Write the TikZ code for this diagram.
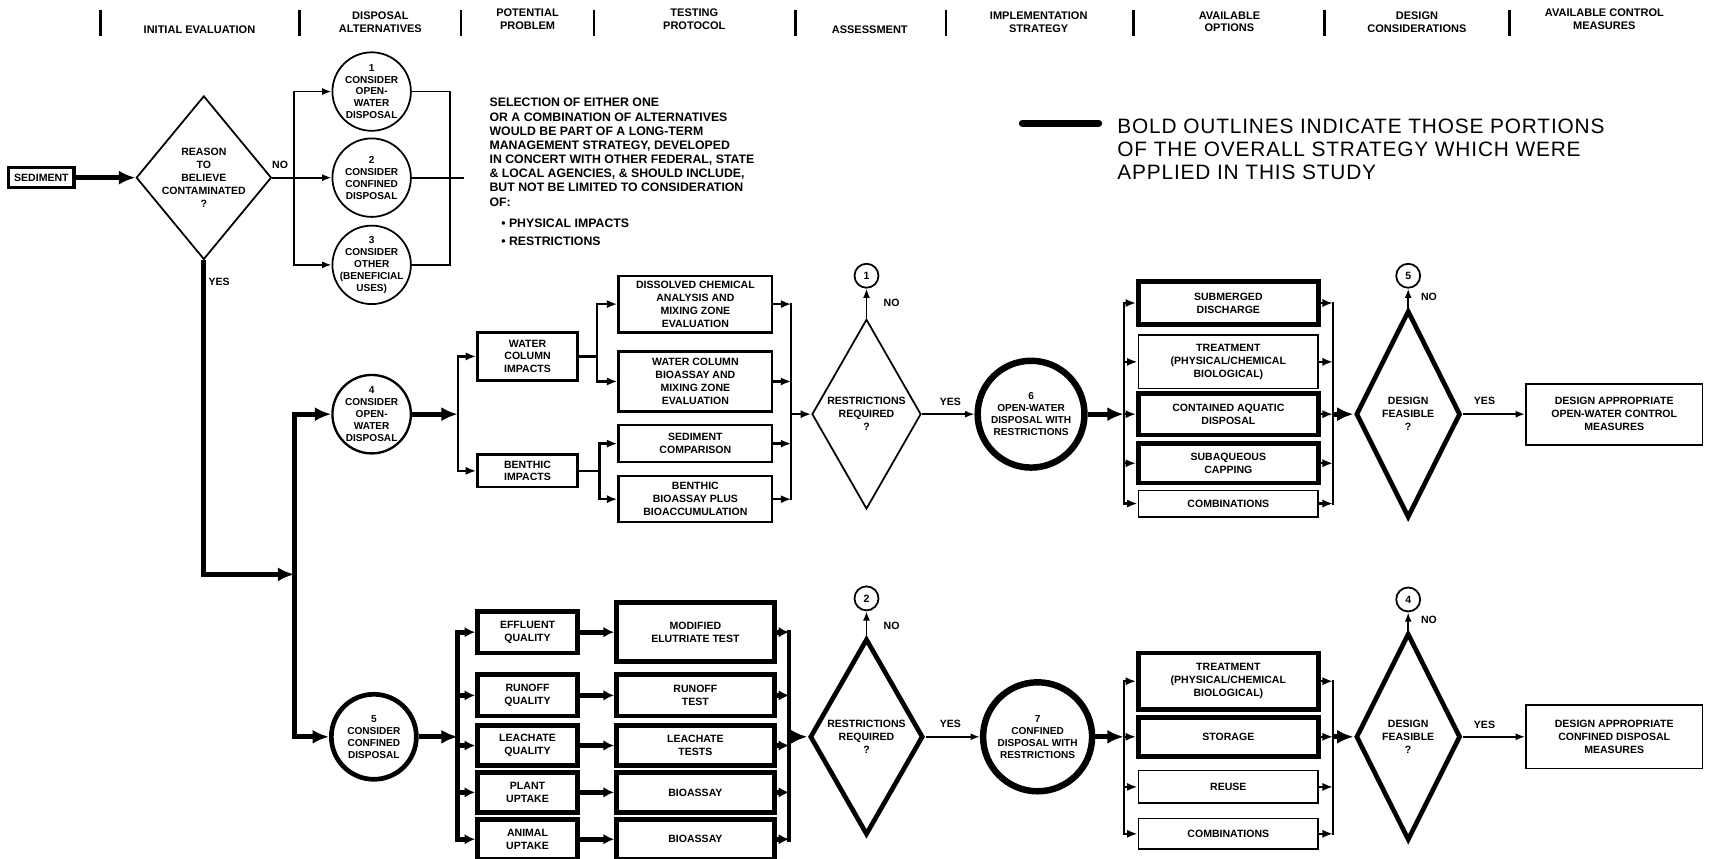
\documentclass[tikz,border=0pt]{standalone}
\usepackage{fontspec}
\setmainfont{Liberation Sans}
\newfontfamily\legendfam[LetterSpace=4]{Liberation Sans}
\usetikzlibrary{arrows.meta, shapes.geometric}

\newcommand{\upx}{0.327mm}
\newcommand{\boxfont}{\fontsize{9}{11}\selectfont\bfseries}
\newcommand{\ringfont}{\fontsize{8.6}{10.2}\selectfont\bfseries}
\newcommand{\hdfont}{\fontsize{9.4}{11}\selectfont\bfseries}
\newcommand{\notefont}{\fontsize{10.5}{12.1}\selectfont\bfseries}
\newcommand{\legendfont}{\fontsize{17.8}{19.5}\legendfam}

\tikzset{
  thinln/.style={line width=1.5pt},
  medln/.style={line width=2pt},
  boldln/.style={line width=4pt},
  bus/.style={line cap=rect},
  sz/.style 2 args={minimum width=#1*\upx, minimum height=#2*\upx},
  box/.style={draw, rectangle, inner sep=0pt, align=center, font=\boxfont, medln},
  thinbox/.style={box, thinln},
  boldbox/.style={box, boldln},
  ring/.style={circle, draw, inner sep=0pt, minimum size=#1*\upx},
  ctext/.style={align=center, font=\ringfont, inner sep=0pt},
  dtext/.style={align=center, font=\boxfont, inner sep=0pt},
  dia/.style 2 args={diamond, draw, inner sep=0pt, minimum width=#1*\upx, minimum height=#2*\upx},
  conn/.style={circle, draw, thinln, inner sep=0pt, minimum size=22*\upx, font=\boxfont},
  hd/.style={align=center, font=\hdfont, inner sep=0pt},
  yn/.style={font=\boxfont, inner sep=0pt},
  arr/.style={thinln, -{Latex[length=8pt,width=6pt]}},
  marr/.style={medln, -{Latex[length=9pt,width=7pt]}},
  sarr/.style={boldln, -{Latex[length=9pt,width=9pt]}},
  barr/.style={boldln, -{Latex[length=14pt,width=12pt]}},
}

\begin{document}
\begin{tikzpicture}[x=\upx, y=-\upx]
  \useasboundingbox (0,0) rectangle (1568,788);

  % column headings
  \foreach \bx in {92,275,423,545,730,868,1040,1215,1385}
    \draw[line width=2.2pt] (\bx,9) -- (\bx,33);
  \node[hd] (h1) at (183,27) {INITIAL EVALUATION};
  \node[hd] (h2) at (349,20) {DISPOSAL\\ALTERNATIVES};
  \node[hd] (h3) at (484,18) {POTENTIAL\\PROBLEM};
  \node[hd] (h4) at (637,18) {TESTING\\PROTOCOL};
  \node[hd] (h5) at (798,27) {ASSESSMENT};
  \node[hd] (h6) at (953,20) {IMPLEMENTATION\\STRATEGY};
  \node[hd] (h7) at (1128,20) {AVAILABLE\\OPTIONS};
  \node[hd] (h8) at (1300,20) {DESIGN\\CONSIDERATIONS};
  \node[hd] (h9) at (1472,18) {AVAILABLE CONTROL\\MEASURES};

  % legend
  \coordinate (lgA) at (938,113);
  \coordinate (lgB) at (1008,113);
  \draw[line width=6pt, line cap=round] (lgA) -- (lgB);
  \node[anchor=north west, align=left, font=\legendfont, inner sep=0pt] (legend) at (1025,109)
    {BOLD OUTLINES INDICATE THOSE PORTIONS\\OF THE OVERALL STRATEGY WHICH WERE\\APPLIED IN THIS STUDY};

  % initial evaluation
  \node[boldbox, line width=2.8pt, sz={60}{18}] (sed) at (38,163) {SEDIMENT};
  \node[dia={124}{150}, thinln, label={[dtext]center:REASON\\TO\\BELIEVE\\CONTAMINATED\\?}] (reason) at (187,163) {};
  \draw[barr] (sed.east) -- (reason.west);
  \node[yn] (no0) at (257,151) {NO};
  \node[yn] (yes0) at (201,259) {YES};

  % disposal alternatives
  \node[ring=72, thinln, label={[ctext]center:1\\CONSIDER\\OPEN-\\WATER\\DISPOSAL}] (alt1) at (341,84) {};
  \node[ring=72, thinln, label={[ctext]center:2\\CONSIDER\\CONFINED\\DISPOSAL}] (alt2) at (341,163) {};
  \node[ring=72, thinln, label={[ctext]center:3\\CONSIDER\\OTHER\\(BENEFICIAL\\USES)}] (alt3) at (341,243) {};
  \coordinate (nobus) at (270,0);
  \coordinate (altbus) at (413,0);
  \coordinate (altend) at (426,163);
  \draw[arr] (reason.east) -- (alt2.west);
  \draw[thinln, bus] (alt1.west -| nobus) -- (alt3.west -| nobus);
  \draw[arr] (alt1.west -| nobus) -- (alt1.west);
  \draw[arr] (alt3.west -| nobus) -- (alt3.west);
  \draw[thinln] (alt1.east) -- (alt1.east -| altbus) -- (alt3.east -| altbus) -- (alt3.east);
  \draw[thinln] (alt2.east) -- (altend);
  \node[anchor=north west, align=left, font=\notefont, inner sep=0pt] (note) at (449,90)
    {SELECTION OF EITHER ONE\\
     OR A COMBINATION OF ALTERNATIVES\\
     WOULD BE PART OF A LONG-TERM\\
     MANAGEMENT STRATEGY, DEVELOPED\\
     IN CONCERT WITH OTHER FEDERAL, STATE\\
     \& LOCAL AGENCIES, \& SHOULD INCLUDE,\\
     BUT NOT BE LIMITED TO CONSIDERATION\\
     OF:\\[6pt]
     \hspace*{10pt}\textbullet\ PHYSICAL IMPACTS\\[3pt]
     \hspace*{10pt}\textbullet\ RESTRICTIONS};

  % yes branch
  \node[ring=72, medln, label={[ctext]center:4\\CONSIDER\\OPEN-\\WATER\\DISPOSAL}] (c4) at (341,380) {};
  \node[ring=78, boldln, label={[ctext]center:5\\CONSIDER\\CONFINED\\DISPOSAL}] (c5) at (343,676) {};
  \coordinate (yjoin) at (270,527);
  \draw[barr] (reason.south) |- (yjoin);
  \draw[boldln, bus] (c4.west -| yjoin) -- (c5.west -| yjoin);
  \draw[barr] (c4.west -| yjoin) -- (c4.west);
  \draw[barr] (c5.west -| yjoin) -- (c5.west);

  % open-water: potential problem and testing protocol
  \coordinate (owbus) at (420,0);
  \coordinate (wsub) at (548,0);
  \coordinate (bsub) at (550,0);
  \coordinate (owtest) at (726,0);
  \node[box, sz={92}{44}] (wci) at (484,327) {WATER\\COLUMN\\IMPACTS};
  \node[box, sz={92}{30}] (bim) at (484,432) {BENTHIC\\IMPACTS};
  \node[box, sz={141}{52}] (dca) at (638,279) {DISSOLVED CHEMICAL\\ANALYSIS AND\\MIXING ZONE\\EVALUATION};
  \node[box, sz={141}{55}] (wcb) at (638,350) {WATER COLUMN\\BIOASSAY AND\\MIXING ZONE\\EVALUATION};
  \node[box, sz={141}{34}] (sco) at (638,407) {SEDIMENT\\COMPARISON};
  \node[box, sz={141}{42}] (bbb) at (638,458) {BENTHIC\\BIOASSAY PLUS\\BIOACCUMULATION};
  \draw[barr] (c4.east) -- (c4.east -| owbus);
  \draw[medln, bus] (wci.west -| owbus) -- (bim.west -| owbus);
  \draw[marr] (wci.west -| owbus) -- (wci.west);
  \draw[marr] (bim.west -| owbus) -- (bim.west);
  \draw[medln] (wci.east) -- (wci.east -| wsub);
  \draw[medln, bus] (dca.west -| wsub) -- (wcb.west -| wsub);
  \draw[marr] (dca.west -| wsub) -- (dca.west);
  \draw[marr] (wcb.west -| wsub) -- (wcb.west);
  \draw[medln] (bim.east) -- (bim.east -| bsub);
  \draw[medln, bus] (sco.west -| bsub) -- (bbb.west -| bsub);
  \draw[marr] (sco.west -| bsub) -- (sco.west);
  \draw[marr] (bbb.west -| bsub) -- (bbb.west);
  \draw[medln, bus] (dca.east -| owtest) -- (bbb.east -| owtest);
  \foreach \b in {dca,wcb,sco,bbb}
    \draw[marr] (\b.east) -- (\b.east -| owtest);

  % open-water: assessment and implementation
  \node[dia={100}{174}, thinln, label={[dtext]center:RESTRICTIONS\\REQUIRED\\?}] (ra) at (795,380) {};
  \node[conn] (k1) at (795,253) {1};
  \node[yn] (no1) at (818,278) {NO};
  \node[yn] (yes1) at (872,369) {YES};
  \node[ring=98, line width=5.5pt, label={[ctext]center:6\\OPEN-WATER\\DISPOSAL WITH\\RESTRICTIONS}] (c6) at (946,380) {};
  \draw[marr] (ra.west -| owtest) -- (ra.west);
  \draw[arr] (ra.north) -- (k1.south);
  \draw[arr] (ra.east) -- (c6.west);

  % open-water: options and design
  \coordinate (owopt) at (1031,0);
  \coordinate (owdes) at (1223,0);
  \node[boldbox, sz={165}{40}] (sub) at (1127,278) {SUBMERGED\\DISCHARGE};
  \node[thinbox, sz={165}{49}] (trt1) at (1127,332) {TREATMENT\\(PHYSICAL/CHEMICAL\\BIOLOGICAL)};
  \node[boldbox, sz={165}{38}] (cad) at (1127,380) {CONTAINED AQUATIC\\DISPOSAL};
  \node[boldbox, sz={165}{36}] (cap) at (1127,425) {SUBAQUEOUS\\CAPPING};
  \node[thinbox, sz={165}{24}] (cmb1) at (1127,462) {COMBINATIONS};
  \draw[barr] (c6.east) -- (c6.east -| owopt);
  \draw[medln, bus] (sub.west -| owopt) -- (cmb1.west -| owopt);
  \draw[medln, bus] (sub.east -| owdes) -- (cmb1.east -| owdes);
  \foreach \b in {sub,trt1,cad,cap,cmb1} {
    \draw[marr] (\b.west -| owopt) -- (\b.west);
    \draw[marr] (\b.east) -- (\b.east -| owdes);
  }
  \node[dia={96}{190}, boldln, label={[dtext]center:DESIGN\\FEASIBLE\\?}] (da) at (1292,380) {};
  \node[conn] (k5) at (1292,253) {5};
  \node[yn] (no5) at (1311,272) {NO};
  \node[yn] (yes5) at (1362,368) {YES};
  \node[thinbox, sz={162}{56}] (fin1) at (1481,380) {DESIGN APPROPRIATE\\OPEN-WATER CONTROL\\MEASURES};
  \draw[barr] (da.west -| owdes) -- (da.west);
  \draw[arr] (da.north) -- (k5.south);
  \draw[arr] (da.east) -- (fin1.west);

  % confined: potential problem and testing protocol
  \coordinate (cdbus) at (420,0);
  \coordinate (cdtest) at (724,0);
  \node[boldbox, sz={92}{38}] (eff) at (484,580) {EFFLUENT\\QUALITY};
  \node[boldbox, sz={92}{38}] (run) at (484,638) {RUNOFF\\QUALITY};
  \node[boldbox, sz={92}{37}] (lea) at (484,684) {LEACHATE\\QUALITY};
  \node[boldbox, sz={92}{37}] (pla) at (484,727) {PLANT\\UPTAKE};
  \node[boldbox, sz={92}{36}] (ani) at (484,770) {ANIMAL\\UPTAKE};
  \node[boldbox, sz={145}{54}] (elu) at (638,580) {MODIFIED\\ELUTRIATE TEST};
  \node[boldbox, sz={145}{38}] (rut) at (638,638) {RUNOFF\\TEST};
  \node[boldbox, sz={145}{37}] (let) at (638,684) {LEACHATE\\TESTS};
  \node[boldbox, sz={145}{37}] (bio1) at (638,727) {BIOASSAY};
  \node[boldbox, sz={145}{36}] (bio2) at (638,770) {BIOASSAY};
  \draw[barr] (c5.east) -- (c5.east -| cdbus);
  \draw[boldln, bus] (eff.west -| cdbus) -- (ani.west -| cdbus);
  \draw[boldln, bus] (elu.east -| cdtest) -- (bio2.east -| cdtest);
  \foreach \p/\t in {eff/elu, run/rut, lea/let, pla/bio1, ani/bio2} {
    \draw[sarr] (\p.west -| cdbus) -- (\p.west);
    \draw[sarr] (\p) -- (\t);
    \draw[sarr] (\t.east) -- (\t.east -| cdtest);
  }

  % confined: assessment and implementation
  \node[dia={104}{180}, boldln, label={[dtext]center:RESTRICTIONS\\REQUIRED\\?}] (rb) at (795,676) {};
  \node[conn] (k2) at (795,549) {2};
  \node[yn] (no2) at (818,574) {NO};
  \node[yn] (yes2) at (872,664) {YES};
  \node[ring=100, line width=5.5pt, label={[ctext]center:7\\CONFINED\\DISPOSAL WITH\\RESTRICTIONS}] (c7) at (952,676) {};
  \draw[barr] (rb.west -| cdtest) -- (rb.west);
  \draw[arr] (rb.north) -- (k2.south);
  \draw[arr] (rb.east) -- (c7.west);

  % confined: options and design
  \coordinate (cdopt) at (1031,0);
  \coordinate (cddes) at (1223,0);
  \node[boldbox, sz={165}{52}] (trt2) at (1127,625) {TREATMENT\\(PHYSICAL/CHEMICAL\\BIOLOGICAL)};
  \node[boldbox, sz={165}{36}] (sto) at (1127,676) {STORAGE};
  \node[thinbox, sz={165}{30}] (reu) at (1127,722) {REUSE};
  \node[thinbox, sz={165}{28}] (cmb2) at (1127,765) {COMBINATIONS};
  \draw[barr] (c7.east) -- (c7.east -| cdopt);
  \draw[medln, bus] (trt2.west -| cdopt) -- (cmb2.west -| cdopt);
  \draw[medln, bus] (trt2.east -| cddes) -- (cmb2.east -| cddes);
  \foreach \b in {trt2,sto,reu,cmb2} {
    \draw[marr] (\b.west -| cdopt) -- (\b.west);
    \draw[marr] (\b.east) -- (\b.east -| cddes);
  }
  \node[dia={96}{190}, boldln, label={[dtext]center:DESIGN\\FEASIBLE\\?}] (db) at (1292,676) {};
  \node[conn] (k4) at (1292,550) {4};
  \node[yn] (no4) at (1311,569) {NO};
  \node[yn] (yes4) at (1362,665) {YES};
  \node[thinbox, sz={162}{58}] (fin2) at (1481,676) {DESIGN APPROPRIATE\\CONFINED DISPOSAL\\MEASURES};
  \draw[barr] (db.west -| cddes) -- (db.west);
  \draw[arr] (db.north) -- (k4.south);
  \draw[arr] (db.east) -- (fin2.west);
\end{tikzpicture}
\end{document}
